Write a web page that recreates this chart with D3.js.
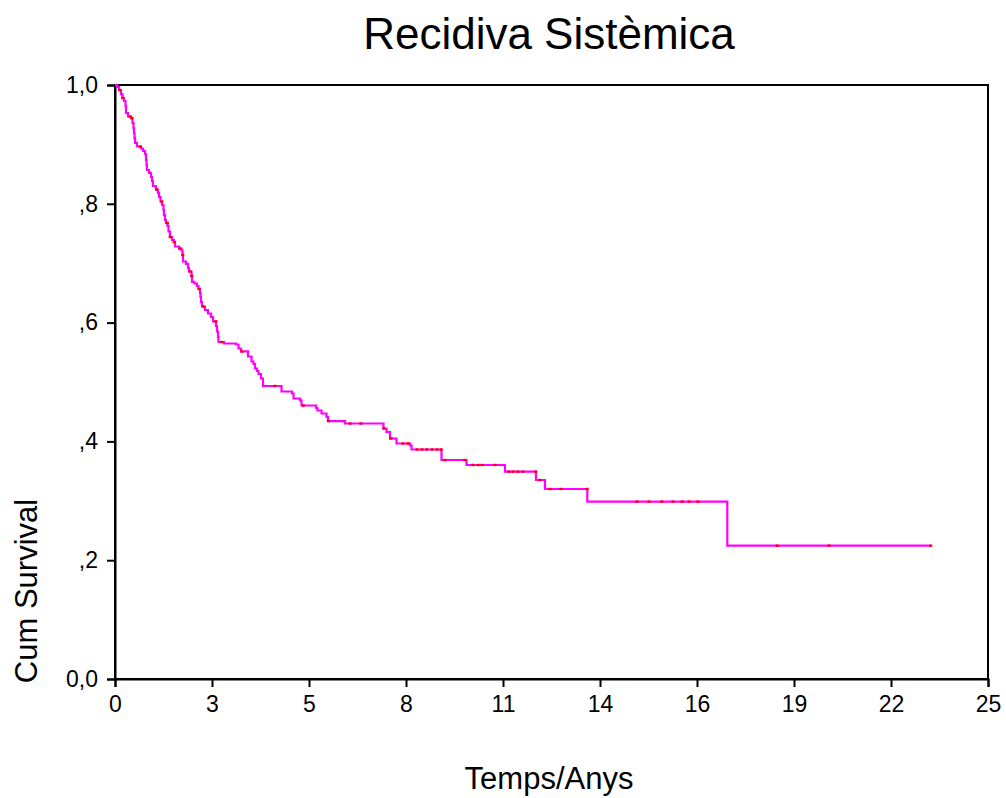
<!DOCTYPE html>
<html>
<head>
<meta charset="utf-8">
<script src="https://cdn.jsdelivr.net/npm/d3@7"></script>
<style>
  html, body { margin: 0; padding: 0; background: #fff; }
  svg { display: block; font-family: "Liberation Sans", Arial, sans-serif; }
</style>
</head>
<body>
<svg id="chart" width="1006" height="798"></svg>
<script>
// ---- data ----
const stepTimes = [0.057,0.115,0.172,0.215,0.258,0.301,0.315,0.372,0.458,0.501,0.530,0.544,0.558,0.573,0.630,0.745,0.802,0.859,0.888,0.902,0.916,0.974,1.031,1.060,1.088,1.174,1.231,1.260,1.303,1.346,1.389,1.403,1.432,1.460,1.503,1.532,1.575,1.632,1.690,1.718,1.833,1.904,1.933,1.947,2.033,2.090,2.119,2.191,2.205,2.277,2.348,2.391,2.434,2.448,2.463,2.491,2.577,2.663,2.749,2.806,2.892,2.921,2.950,2.964,3.121,3.465,3.537,3.608,3.809,3.909,3.966,4.009,4.066,4.109,4.181,4.238,4.768,5.069,5.112,5.298,5.341,5.756,5.799,5.914,6.057,6.100,6.586,7.689,7.775,7.875,8.061,8.448,8.491,9.350,10.066,11.168,12.056,12.314,13.525,17.534];
const stepSurvival = [0.9966,0.9916,0.9848,0.9781,0.9731,0.9646,0.9529,0.9470,0.9444,0.9360,0.9276,0.9192,0.9108,0.9024,0.8965,0.8931,0.8889,0.8838,0.8737,0.8653,0.8569,0.8519,0.8451,0.8384,0.8300,0.8241,0.8182,0.8114,0.8039,0.7980,0.7896,0.7811,0.7727,0.7677,0.7626,0.7534,0.7441,0.7391,0.7357,0.7281,0.7247,0.7214,0.7138,0.7029,0.6987,0.6919,0.6860,0.6785,0.6684,0.6658,0.6616,0.6566,0.6498,0.6431,0.6347,0.6271,0.6212,0.6153,0.6094,0.6019,0.5943,0.5850,0.5758,0.5673,0.5648,0.5631,0.5564,0.5514,0.5429,0.5345,0.5303,0.5227,0.5185,0.5135,0.5059,0.4933,0.4840,0.4806,0.4722,0.4689,0.4604,0.4562,0.4520,0.4470,0.4411,0.4343,0.4301,0.4217,0.4158,0.4049,0.3965,0.3931,0.3864,0.3687,0.3603,0.3490,0.3350,0.3199,0.2985,0.2244];
const lastTime = 23.36;
const censorTimes = [0.14,0.22,0.43,0.48,0.72,1.19,1.34,1.50,1.58,1.69,1.86,1.94,2.15,2.20,2.41,2.53,2.89,3.06,3.63,4.58,5.39,6.11,6.73,7.04,7.70,7.90,8.25,8.39,8.65,8.79,8.93,9.08,9.22,9.34,9.45,10.02,10.25,10.40,10.51,10.88,11.28,11.40,11.54,11.68,12.05,12.17,12.46,12.77,13.52,14.95,15.29,15.66,15.98,16.24,16.44,16.69,18.96,20.45,23.36];
const xTickLabels = ["0","3","5","8","11","14","16","19","22","25"];
const yTickValues = [0,0.2,0.4,0.6,0.8,1.0];
const yTickLabels = ["0,0",",2",",4",",6",",8","1,0"];
const titleText = "Recidiva Sistèmica";
const xTitle = "Temps/Anys";
const yTitle = "Cum Survival";

// ---- layout ----
const svg = d3.select("#chart");
const L = 115, R = 988, T = 85, B = 679;
const x = d3.scaleLinear().domain([0, 25]).range([L, R]);
const y = d3.scaleLinear().domain([0, 1]).range([B, T]);
const FONT = "Liberation Sans, Arial, sans-serif";

// frame
svg.append("rect").attr("x", L).attr("y", T).attr("width", R - L).attr("height", B - T)
  .attr("fill", "none").attr("stroke", "#000").attr("stroke-width", 2);

// axes
const xTickVals = d3.range(10).map(i => i * 25 / 9);
const xAxis = d3.axisBottom(x).tickValues(xTickVals).tickSize(8).tickPadding(9)
  .tickFormat((d, i) => xTickLabels[i]);
const gx = svg.append("g").attr("transform", `translate(0,${B})`).call(xAxis);
gx.select(".domain").attr("stroke-width", 2);
gx.selectAll(".tick line").attr("stroke-width", 2);
gx.selectAll("text").attr("font-size", 23).attr("fill", "#000").attr("font-family", FONT);

const yAxis = d3.axisLeft(y).tickValues(yTickValues).tickSize(8).tickPadding(9)
  .tickFormat((d, i) => yTickLabels[i]);
const gy = svg.append("g").attr("transform", `translate(${L},0)`).call(yAxis);
gy.select(".domain").attr("stroke-width", 2);
gy.selectAll(".tick line").attr("stroke-width", 2);
gy.selectAll("text").attr("font-size", 23).attr("fill", "#000").attr("font-family", FONT);

// titles
svg.append("text").attr("x", 549).attr("y", 49).attr("text-anchor", "middle")
  .attr("font-size", 44).text(titleText);
svg.append("text").attr("x", 549).attr("y", 789).attr("text-anchor", "middle")
  .attr("font-size", 31).text(xTitle);
svg.append("text").attr("transform", "translate(37,591) rotate(-90)").attr("text-anchor", "middle")
  .attr("font-size", 31).text(yTitle);

// survival curve
const pts = [[0, 1]].concat(stepTimes.map((t, i) => [t, stepSurvival[i]]));
pts.push([lastTime, stepSurvival[stepSurvival.length - 1]]);
const line = d3.line().x(d => x(d[0])).y(d => y(d[1])).curve(d3.curveStepAfter);
svg.append("path").datum(pts).attr("d", line).attr("fill", "none")
  .attr("stroke", "#ff00ff").attr("stroke-width", 2.2);

// censor marks
const bis = d3.bisector(d => d[0]).right;
function survAt(t) { const i = bis(pts, t) - 1; return pts[Math.max(0, i)][1]; }
svg.append("g").selectAll("rect").data(censorTimes).join("rect")
  .attr("x", d => x(d) - 1.5).attr("y", d => y(survAt(d)) - 1.2)
  .attr("width", 3).attr("height", 2.4).attr("fill", "#ff0000");
</script>
</body>
</html>
